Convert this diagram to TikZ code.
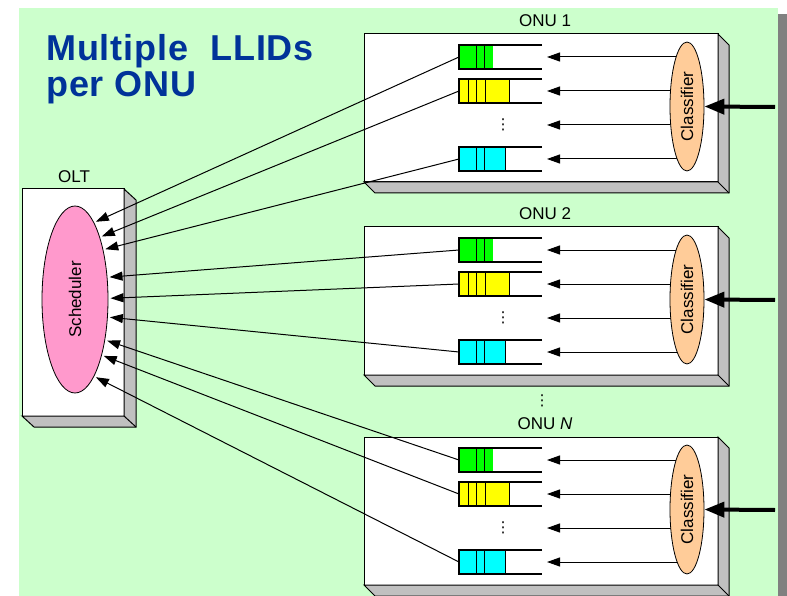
\documentclass[tikz,border=0pt]{standalone}
\usepackage{fontspec}
\setmainfont{Liberation Sans}
\newfontfamily\symfont{DejaVu Sans}
\usetikzlibrary{arrows.meta,shapes.geometric}

\definecolor{bggreen}{HTML}{CCFFCC}
\definecolor{sidegray}{HTML}{C0C0C0}
\definecolor{shadowgray}{HTML}{808080}
\definecolor{titleblue}{HTML}{003399}
\definecolor{qgreen}{HTML}{00FF00}
\definecolor{qyellow}{HTML}{FFFF00}
\definecolor{qcyan}{HTML}{00FFFF}
\definecolor{clsfill}{HTML}{FFCC99}
\definecolor{schfill}{HTML}{FF99CC}

\tikzset{
  lbl/.style={font=\fontsize{17}{20}\selectfont, inner sep=0pt},
  titletext/.style={font=\fontsize{36}{40}\selectfont\bfseries\addfontfeature{LetterSpace=2.5}, text=titleblue, inner sep=0pt},
  boxface/.style={draw=black, fill=white, line width=1pt, inner sep=0pt, outer sep=0pt},
  boxside/.style={draw=black, fill=sidegray, line width=1pt, line join=miter},
  qnode/.style={minimum width=83pt, minimum height=24pt, inner sep=0pt, outer sep=0pt},
  qline/.style={line width=2pt},
  divline/.style={line width=0.9pt},
  dotsnode/.style={font=\symfont\fontsize{15}{18}\selectfont, inner sep=0pt},
  clsell/.style={ellipse, draw=black, fill=clsfill, line width=0.8pt, minimum width=34pt, minimum height=129pt, inner sep=0pt},
  schell/.style={ellipse, draw=black, fill=schfill, line width=0.8pt, minimum width=66pt, minimum height=187pt, inner sep=0pt, outer sep=2.5pt},
  carrow/.style={line width=1pt, -{Triangle[length=13pt,width=9pt]}, shorten >=5pt},
  sarrow/.style={line width=1pt, -{Triangle[length=13pt,width=9pt]}},
  inarrow/.style={line width=4pt, -{Triangle[length=20pt,width=15pt]}},
}

% queue: name, top y, colour, fill width, dividers
\newcommand\queue[5]{%
  \node[qnode, anchor=north west] (#1) at (459,#2) {};
  \fill[#3] (#1.north west) rectangle ++(#4,24);
  \foreach \d in {#5} {\draw[divline] (#1.north west) ++(\d,0) -- ++(0,24);}
  \draw[qline] (#1.north east) -- (#1.north west) -- (#1.south west) -- (#1.south east);
}

% ONU: name, y offset, label
\newcommand\onu[3]{%
  \begin{scope}[shift={(0,#2)}]
    \node[boxface, minimum width=354pt, minimum height=148pt, anchor=north west] (#1) at (364,34) {};
    \draw[boxside] (#1.north east) -- ++(11,11) -- ++(0,148) -- ++(-354,0) -- (#1.south west) -- (#1.south east) -- cycle;
    \draw[line width=1pt] (#1.south east) -- ++(11,11);
    \node[lbl] (#1lab) at (545,21) {#3};
    \queue{#1g}{45}{qgreen}{34}{17,25}
    \queue{#1y}{79}{qyellow}{50}{9,17,26,50}
    \queue{#1c}{147}{qcyan}{46}{17,25,46}
    \coordinate (#1d) at (542,125);
    \node[dotsnode] (#1dots) at (503,125) {⋮};
    \coordinate (#1k) at (687,106.5);
    \coordinate (#1in) at (775,107);
    \draw[carrow] (#1k |- #1g.east) -- (#1g.east);
    \draw[carrow] (#1k |- #1y.east) -- (#1y.east);
    \draw[carrow] (#1k |- #1d) -- (#1d);
    \draw[carrow] (#1k |- #1c.east) -- (#1c.east);
    \node[clsell] (#1cls) at (#1k) {};
    \node[lbl, rotate=90] (#1clstxt) at (#1cls) {Classifier};
    \draw[inarrow] (#1in) -- (#1cls.east);
  \end{scope}
}

\begin{document}
\begin{tikzpicture}[x=1pt,y=-1pt]
  \useasboundingbox (0,0) rectangle (787,596);
  \fill[white] (0,0) rectangle (787,596);
  \fill[shadowgray] (24,14) rectangle (787,596);
  \fill[bggreen] (19,8) rectangle (778,596);

  \node[titletext, anchor=base west] (title1) at (46,61) {Multiple\ \ LLIDs};
  \node[titletext, anchor=base west] (title2) at (46,97) {per ONU};

  % OLT
  \node[boxface, minimum width=102pt, minimum height=227pt, anchor=north west] (olt) at (22,189) {};
  \draw[boxside] (olt.north east) -- ++(12,11) -- ++(0,227) -- ++(-102,0) -- (olt.south west) -- (olt.south east) -- cycle;
  \draw[line width=1pt] (olt.south east) -- ++(12,11);
  \node[lbl] (oltlab) at (74,177) {OLT};
  \node[schell] (sch) at (75,299.5) {};
  \node[lbl, rotate=90] (schtxt) at (sch) {Scheduler};

  \onu{onuA}{0}{ONU 1}
  \onu{onuB}{193}{ONU 2}
  \onu{onuN}{403}{ONU \textit{N}}

  \node[dotsnode] (middots) at (542,401) {⋮};

  \draw[sarrow] (onuAg.west) -- (sch.75.2);
  \draw[sarrow] (onuAy.west) -- (sch.67.8);
  \draw[sarrow] (onuAc.west) -- (sch.59.3);
  \draw[sarrow] (onuBg.west) -- (sch.33.1);
  \draw[sarrow] (onuBy.west) -- (sch.2.5);
  \draw[sarrow] (onuBc.west) -- (sch.-27.9);
  \draw[sarrow] (onuNg.west) -- (sch.-52.2);
  \draw[sarrow] (onuNy.west) -- (sch.-63.2);
  \draw[sarrow] (onuNc.west) -- (sch.-75);
\end{tikzpicture}
\end{document}
